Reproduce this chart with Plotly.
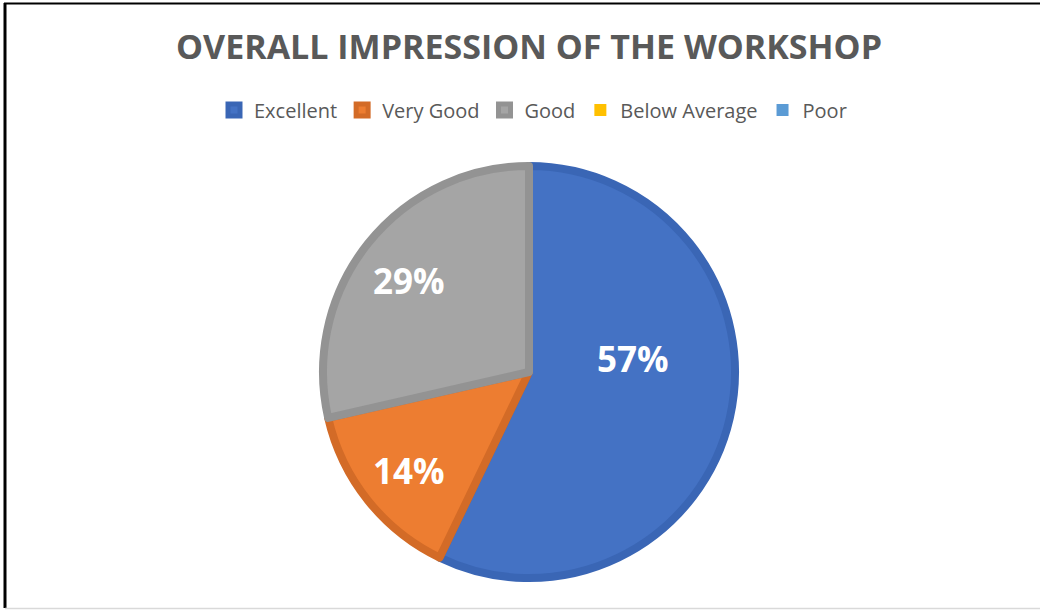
import plotly.graph_objects as go

categories = ["Excellent", "Very Good", "Good", "Below Average", "Poor"]
values = [4, 1, 2, 0, 0]
fill_colors = ["#4472C4", "#ED7D31", "#A5A5A5", "#FFC000", "#5B9BD5"]
border_colors = ["#3A66B5", "#D36B27", "#939393", "#E0A800", "#4F88BE"]
title_text = "OVERALL IMPRESSION OF THE WORKSHOP"

W, H = 1040, 610
cx, cy, r = 529, 372, 206

# pixel positions where the data labels sit (layout only)
label_pos = {"Excellent": (633, 358), "Very Good": (409, 470), "Good": (409, 280)}

total = sum(values)
line_widths = [8 if v > 0 else 0 for v in values]

fig = go.Figure(go.Pie(
    labels=categories,
    values=values,
    sort=False,
    direction="clockwise",
    rotation=0,
    marker=dict(colors=fill_colors, line=dict(color=border_colors, width=line_widths)),
    textinfo="none",
    domain=dict(x=[(cx - r) / W, (cx + r) / W], y=[(H - cy - r) / H, (H - cy + r) / H]),
    hoverinfo="label+percent",
))

annotations = []
for cat, v in zip(categories, values):
    if v > 0 and cat in label_pos:
        px, py = label_pos[cat]
        annotations.append(dict(
            text="<b>%d%%</b>" % round(100 * v / total),
            x=px / W, y=1 - py / H, xref="paper", yref="paper",
            xanchor="center", yanchor="middle", showarrow=False,
            font=dict(family="Open Sans", size=35, color="white"),
        ))

fig.update_layout(
    width=W, height=H,
    margin=dict(l=0, r=0, t=0, b=0),
    paper_bgcolor="white",
    title=dict(text="<b>" + title_text + "</b>", x=529 / W, xanchor="center",
               y=1 - 47 / H, yanchor="middle",
               font=dict(family="Open Sans", size=34, color="#595959")),
    legend=dict(orientation="h", x=533 / W, xanchor="center", y=1 - 110 / H, yanchor="middle",
                font=dict(family="Open Sans", size=20, color="#595959"),
                itemclick=False),
    annotations=annotations,
    shapes=[
        dict(type="line", xref="paper", yref="paper", x0=4 / W, x1=1, y0=1 - 3.5 / H, y1=1 - 3.5 / H,
             line=dict(color="black", width=2)),
        dict(type="line", xref="paper", yref="paper", x0=5 / W, x1=5 / W, y0=1 - 3 / H, y1=1 - 608 / H,
             line=dict(color="black", width=3)),
        dict(type="line", xref="paper", yref="paper", x0=5 / W, x1=1, y0=1 - 608.5 / H, y1=1 - 608.5 / H,
             line=dict(color="#D9D9D9", width=1.5)),
    ],
)

fig.write_html("out.html", config={"displayModeBar": False},
               post_script="document.body.style.margin='0';")
